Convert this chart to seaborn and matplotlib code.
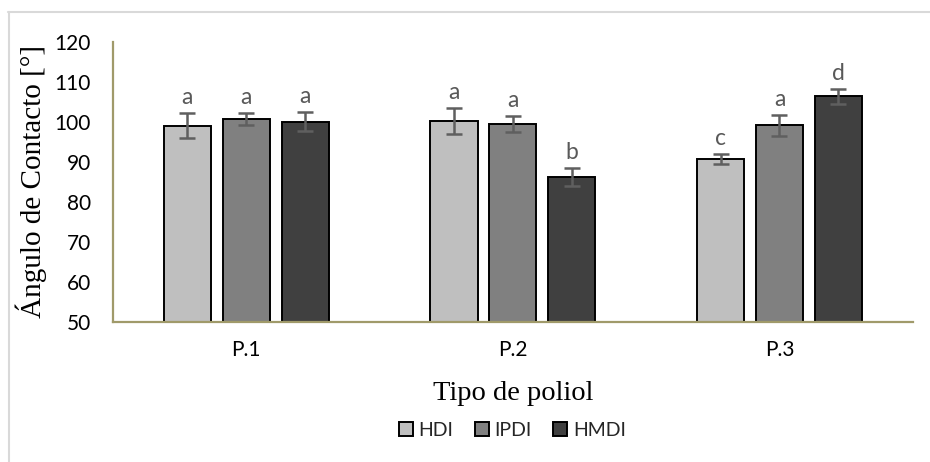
import matplotlib
matplotlib.use("Agg")
import matplotlib.pyplot as plt
from matplotlib.lines import Line2D
import seaborn as sns
import pandas as pd

# Mean contact angle and standard deviation per polyol / isocyanate
polioles = ["P.1", "P.2", "P.3"]
isocianatos = ["HDI", "IPDI", "HMDI"]
hdi = [99.0, 100.2, 90.7]
ipdi = [100.6, 99.4, 99.1]
hmdi = [100.0, 86.2, 106.3]
hdi_sd = [3.1, 3.2, 1.2]
ipdi_sd = [1.5, 2.0, 2.6]
hmdi_sd = [2.4, 2.3, 1.8]
letras_hdi = ["a", "a", "c"]
letras_ipdi = ["a", "a", "a"]
letras_hmdi = ["a", "b", "d"]

colores = ["#bfbfbf", "#808080", "#404040"]

valores = [hdi, ipdi, hmdi]
desv = [hdi_sd, ipdi_sd, hmdi_sd]
letras = [letras_hdi, letras_ipdi, letras_hmdi]

rows = []
for iso, vals, sds, lts in zip(isocianatos, valores, desv, letras):
    for p, v, s, l in zip(polioles, vals, sds, lts):
        rows.append({"poliol": p, "iso": iso, "valor": v, "sd": s, "letra": l})
df = pd.DataFrame(rows)

sns.set_theme(style="white")
plt.rcParams["font.family"] = ["Lato", "DejaVu Sans"]

fig = plt.figure(figsize=(9.3, 4.62), dpi=100)
ax = fig.add_axes([0.1215, 0.303, 0.86, 0.607])

sns.barplot(data=df, x="poliol", y="valor", hue="iso", order=polioles,
            hue_order=isocianatos, palette=colores, width=0.663, gap=0.2,
            edgecolor="black", linewidth=1.4, errorbar=None, ax=ax,
            legend=True)

# error bars and significance letters on each bar
for container, iso in zip(ax.containers, isocianatos):
    sub = df[df["iso"] == iso].set_index("poliol").loc[polioles]
    for patch, (_, r) in zip(container.patches, sub.iterrows()):
        xc = patch.get_x() + patch.get_width() / 2
        ax.errorbar(xc, r["valor"], yerr=r["sd"], fmt="none",
                    ecolor="#5f5f5f", elinewidth=1.8, capsize=6,
                    capthick=1.8, zorder=5)
        ax.annotate(r["letra"], (xc, r["valor"] + r["sd"]),
                    xytext=(0, 3.5), textcoords="offset points",
                    ha="center", va="bottom", fontsize=16.5,
                    color="#595959")

ax.set_ylim(50, 120)
ax.set_yticks(range(50, 121, 10))
ax.set_xlim(-0.5, 2.5)

for side in ["top", "right"]:
    ax.spines[side].set_visible(False)
for side in ["left", "bottom"]:
    ax.spines[side].set_color("#a09a6a")
    ax.spines[side].set_linewidth(1.6)
ax.spines["bottom"].set_zorder(6)

ax.tick_params(axis="y", length=0, pad=16, labelsize=15, labelcolor="black")
ax.tick_params(axis="x", length=0, pad=13, labelsize=15, labelcolor="black")

ax.set_ylabel("Ángulo de Contacto [°]", family="Liberation Serif",
              fontsize=21, color="black", labelpad=5)
ax.set_xlabel("Tipo de poliol", family="Liberation Serif", fontsize=20.5,
              color="black", labelpad=15)

handles, labels = ax.get_legend_handles_labels()
ax.legend(handles, labels, loc="center", bbox_to_anchor=(0.551, 0.069),
          bbox_transform=fig.transFigure, ncol=3, frameon=False,
          fontsize=14, handlelength=0.72, handleheight=0.72,
          handletextpad=0.3, columnspacing=1.1)

# light frame around the chart area
fig.add_artist(Line2D([8 / 930, 1.0], [1 - 12 / 462, 1 - 12 / 462],
                      transform=fig.transFigure, color="#d9d9d9", lw=1.5))
fig.add_artist(Line2D([8.5 / 930, 8.5 / 930], [0, 1 - 12 / 462],
                      transform=fig.transFigure, color="#d9d9d9", lw=1.5))

fig.savefig("out.png", dpi=100)
